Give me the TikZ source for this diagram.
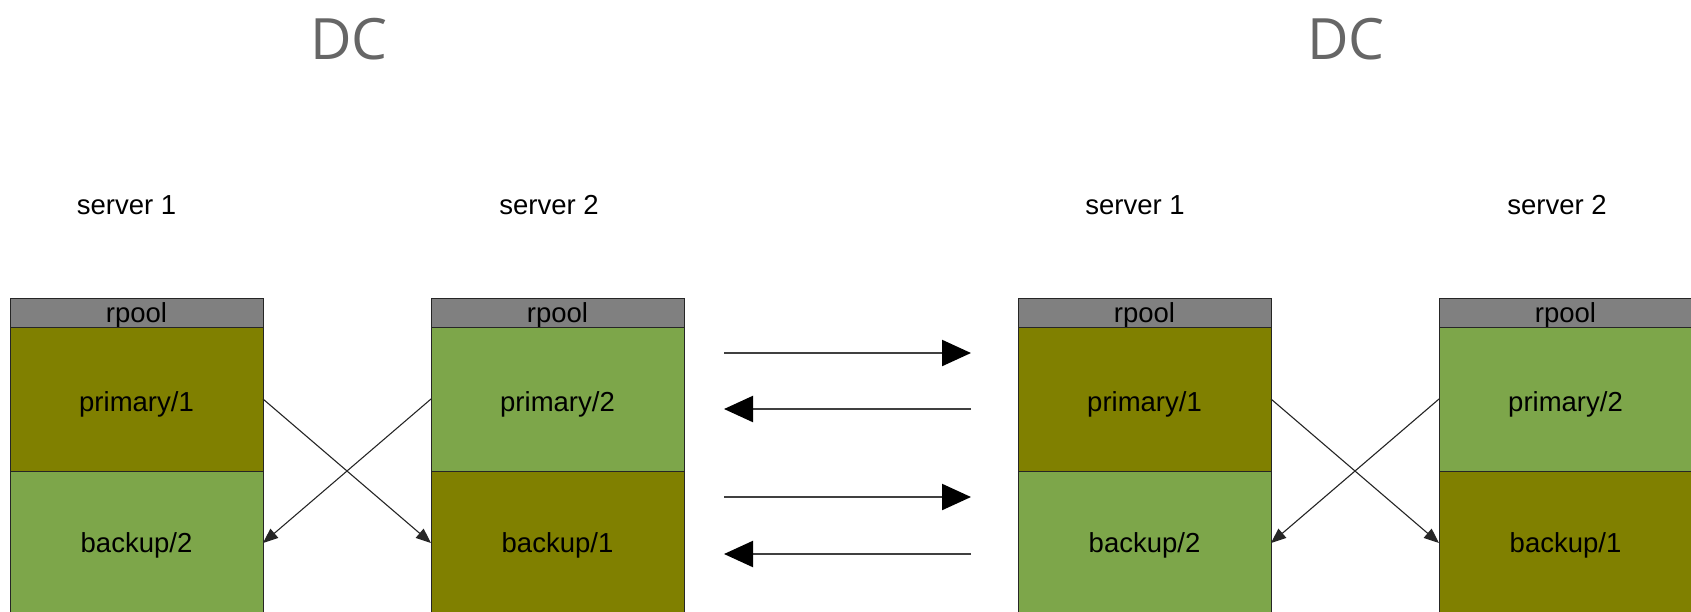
\documentclass[tikz,border=0pt]{standalone}
\usepackage{fontspec}
\setmainfont{Liberation Sans}
\newfontfamily\dcfont{Open Sans}
\usetikzlibrary{arrows.meta}
\definecolor{olivebox}{HTML}{808000}
\definecolor{greenbox}{HTML}{7DA64A}
\definecolor{poolgray}{HTML}{808080}
\definecolor{dcgray}{HTML}{666666}
\definecolor{arrowgray}{HTML}{404040}
\tikzset{
  box/.style={draw=black!85, line width=1pt, rectangle, anchor=north west, inner sep=0pt, outer sep=0pt, minimum width=253pt, font=\fontsize{27.5}{30}\selectfont},
  poolbox/.style={box, fill=poolgray, minimum height=29pt, text height=22pt, text depth=1.4pt},
  primbox/.style={box, minimum height=144pt, text height=27pt, text depth=2pt},
  backbox/.style={box, minimum height=144pt, text height=22pt, text depth=3.4pt},
  serverlabel/.style={font=\fontsize{27.5}{30}\selectfont, inner sep=0pt},
  dclabel/.style={font=\dcfont\fontsize{57}{60}\selectfont, text=dcgray, inner sep=0pt},
  cross/.style={draw=black!85, line width=1.1pt, -{Triangle[length=15pt,width=12pt]}},
  bigarrow/.style={draw=arrowgray, line width=2.2pt, -{Triangle[length=29pt,width=26pt,color=black]}}
}
\begin{document}
\begin{tikzpicture}[x=1pt,y=-1pt]
\useasboundingbox (0,0) rectangle (1691,611);
% titles
\node[dclabel] (dcL) at (349,39) {DC};
\node[dclabel] (dcR) at (1346,39) {DC};
% server labels
\node[serverlabel] (s1L) at (126.5,205) {server 1};
\node[serverlabel] (s2L) at (549,205) {server 2};
\node[serverlabel] (s1R) at (1135,205) {server 1};
\node[serverlabel] (s2R) at (1557,205) {server 2};
% left DC boxes
\node[poolbox] (r1) at (10,298) {rpool};
\node[primbox, fill=olivebox] (p1) at (10,327) {primary/1};
\node[backbox, fill=greenbox] (b1) at (10,471) {backup/2};
\node[poolbox] (r2) at (431,298) {rpool};
\node[primbox, fill=greenbox] (p2) at (431,327) {primary/2};
\node[backbox, fill=olivebox] (b2) at (431,471) {backup/1};
% right DC boxes
\node[poolbox] (r3) at (1018,298) {rpool};
\node[primbox, fill=olivebox] (p3) at (1018,327) {primary/1};
\node[backbox, fill=greenbox] (b3) at (1018,471) {backup/2};
\node[poolbox] (r4) at (1439,298) {rpool};
\node[primbox, fill=greenbox] (p4) at (1439,327) {primary/2};
\node[backbox, fill=olivebox] (b4) at (1439,471) {backup/1};
% cross arrows
\draw[cross] (p1.east) -- (b2.west);
\draw[cross] (p2.west) -- (b1.east);
\draw[cross] (p3.east) -- (b4.west);
\draw[cross] (p4.west) -- (b3.east);
% replication arrows
\coordinate (a1s) at (724,353);
\coordinate (a1e) at (971,353);
\coordinate (a2s) at (971,409);
\coordinate (a2e) at (724,409);
\coordinate (a3s) at (724,497);
\coordinate (a3e) at (971,497);
\coordinate (a4s) at (971,554);
\coordinate (a4e) at (724,554);
\draw[bigarrow] (a1s) -- (a1e);
\draw[bigarrow] (a2s) -- (a2e);
\draw[bigarrow] (a3s) -- (a3e);
\draw[bigarrow] (a4s) -- (a4e);
\end{tikzpicture}
\end{document}
